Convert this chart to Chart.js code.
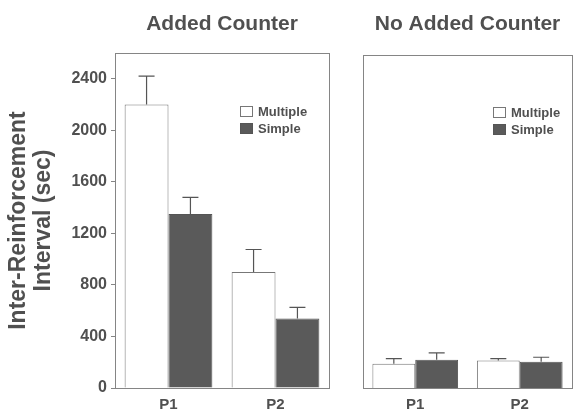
<!DOCTYPE html>
<html>
<head>
<meta charset="utf-8">
<script src="https://cdn.jsdelivr.net/npm/chart.js@4.4.1/dist/chart.umd.min.js"></script>
<style>
  body { margin: 0; background: #fff; overflow: hidden; }
  #left { position: absolute; left: 0; top: 0; }
  #right { position: absolute; left: 345px; top: 0; }
</style>
</head>
<body>
<canvas id="left" width="345" height="412"></canvas>
<canvas id="right" width="229" height="412"></canvas>
<script>
// values
const categories = ['P1', 'P2'];
const seriesNames = ['Multiple', 'Simple'];
const addedMultiple = [2200, 900];
const addedMultipleErr = [220, 175];
const addedSimple = [1350, 540];
const addedSimpleErr = [130, 85];
const noAddedMultiple = [190, 215];
const noAddedMultipleErr = [40, 15];
const noAddedSimple = [220, 205];
const noAddedSimpleErr = [55, 35];
const yTicks = [0, 400, 800, 1200, 1600, 2000, 2400];
const yMax = 2600;

const textColor = '#505050';
const lineColor = '#858585';
const darkFill = '#5a5a5a';
const fontFamily = '"Liberation Sans", Arial, Helvetica, sans-serif';

// frame, error bars, panel title and legend
const panelDecor = {
    id: 'panelDecor',
    afterDatasetsDraw(chart) {
        const ctx = chart.ctx;
        const yScale = chart.scales.y;
        ctx.save();
        ctx.strokeStyle = '#555';
        ctx.lineWidth = 1.2;
        chart.data.datasets.forEach((ds, di) => {
            const meta = chart.getDatasetMeta(di);
            meta.data.forEach((bar, i) => {
                const top = yScale.getPixelForValue(ds.data[i] + ds.errors[i]);
                ctx.beginPath();
                ctx.moveTo(bar.x, bar.y);
                ctx.lineTo(bar.x, top);
                ctx.moveTo(bar.x - 8, top);
                ctx.lineTo(bar.x + 8, top);
                ctx.stroke();
            });
        });
        ctx.restore();
    },
    afterDraw(chart, args, opts) {
        const ctx = chart.ctx;
        const a = chart.chartArea;
        ctx.save();
        // frame
        ctx.strokeStyle = lineColor;
        ctx.lineWidth = 1;
        ctx.strokeRect(Math.round(a.left) + 0.5, Math.round(a.top) + 0.5,
            Math.round(a.right - a.left), Math.round(a.bottom - a.top));
        // title
        ctx.fillStyle = textColor;
        ctx.font = 'bold 21px ' + fontFamily;
        ctx.textAlign = 'center';
        ctx.textBaseline = 'middle';
        ctx.fillText(opts.title, (a.left + a.right) / 2, 24);
        // legend
        ctx.font = 'bold 13px ' + fontFamily;
        ctx.textAlign = 'left';
        chart.data.datasets.forEach((ds, i) => {
            const x = a.left + opts.legendX;
            const y = a.top + opts.legendY + i * 17;
            ctx.fillStyle = ds.backgroundColor;
            ctx.fillRect(x, y, 12, 10);
            ctx.strokeStyle = ds.borderColor;
            ctx.strokeRect(x + 0.5, y + 0.5, 12, 10);
            ctx.fillStyle = textColor;
            ctx.fillText(ds.label, x + 18, y + 6);
        });
        ctx.restore();
    }
};

function makePanel(id, title, multiple, multipleErr, simple, simpleErr, withAxis, padding, legendPos) {
    return new Chart(document.getElementById(id), {
        type: 'bar',
        data: {
            labels: categories,
            datasets: [
                { label: seriesNames[0], data: multiple, errors: multipleErr,
                  backgroundColor: '#ffffff', borderColor: '#777', borderWidth: 1 },
                { label: seriesNames[1], data: simple, errors: simpleErr,
                  backgroundColor: darkFill, borderColor: '#555', borderWidth: 1 }
            ]
        },
        options: {
            responsive: false,
            animation: false,
            layout: { padding: padding },
            categoryPercentage: 0.82,
            barPercentage: 1.0,
            plugins: {
                legend: { display: false },
                tooltip: { enabled: false },
                panelDecor: { title: title, legendX: legendPos[0], legendY: legendPos[1] }
            },
            scales: {
                x: {
                    grid: { display: false },
                    border: { display: false },
                    ticks: { color: textColor, padding: 0, font: { family: fontFamily, size: 15, weight: 'bold' } },
                    afterFit: s => { s.height = 24; }
                },
                y: {
                    display: withAxis,
                    min: 0,
                    max: yMax,
                    afterBuildTicks: s => { s.ticks = yTicks.map(v => ({ value: v })); },
                    afterFit: s => { s.width = withAxis ? 115 : 0; },
                    grid: { drawOnChartArea: false, tickLength: 4, color: lineColor },
                    border: { display: false },
                    ticks: {
                        color: textColor, padding: 4,
                        font: { family: fontFamily, size: 16, weight: 'bold' },
                        callback: v => String(v)
                    },
                    title: {
                        display: true,
                        text: ['Inter-Reinforcement', 'Interval (sec)'],
                        color: textColor,
                        padding: { top: 6, bottom: 0 },
                        font: { family: fontFamily, size: 23, weight: 'bold', lineHeight: 1.1 }
                    }
                }
            }
        },
        plugins: [panelDecor]
    });
}

makePanel('left', 'Added Counter', addedMultiple, addedMultipleErr, addedSimple, addedSimpleErr,
    true, { top: 53, right: 16, bottom: 0, left: 0 }, [125, 53]);
makePanel('right', 'No Added Counter', noAddedMultiple, noAddedMultipleErr, noAddedSimple, noAddedSimpleErr,
    false, { top: 55, right: 2, bottom: 0, left: 18 }, [130, 52]);
</script>
</body>
</html>
